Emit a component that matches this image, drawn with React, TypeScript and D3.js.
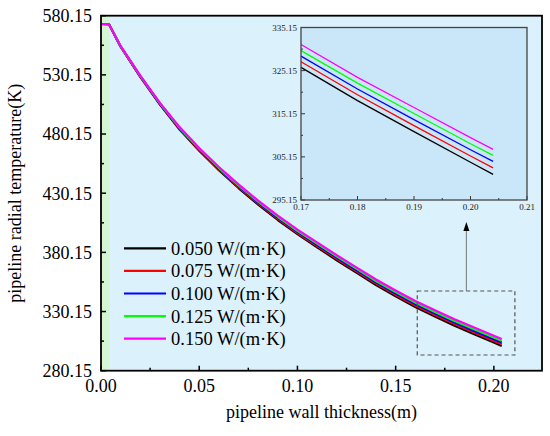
import * as d3 from 'd3';

// wall thickness (m)
const thickness = [0, 0.004, 0.01, 0.02, 0.03, 0.04, 0.05, 0.06, 0.07, 0.08, 0.09, 0.10, 0.11, 0.12, 0.13, 0.14, 0.15, 0.16, 0.17, 0.18, 0.19, 0.20, 0.204];

// radial temperature (K) for each insulation conductivity
const t050 = [573.15, 573.1, 554.0, 528.5, 505.0, 484.0, 466.0, 449.5, 434.5, 420.5, 407.5, 395.5, 384.5, 373.5, 363.0, 352.5, 343.0, 334.0, 325.9, 318.2, 311.0, 303.9, 301.1];
const t075 = [573.15, 573.1, 554.1, 528.75, 505.4, 484.5, 466.6, 450.2, 435.3, 421.35, 408.4, 396.5, 385.5, 374.6, 364.1, 353.7, 344.2, 335.3, 327.2, 319.55, 312.4, 305.35, 302.6];
const t100 = [573.15, 573.1, 554.2, 529.0, 505.75, 485.0, 467.2, 450.9, 436.05, 422.2, 409.35, 397.45, 386.55, 375.65, 365.25, 354.85, 345.45, 336.55, 328.5, 320.9, 313.8, 306.8, 304.1];
const t125 = [573.15, 573.1, 554.3, 529.25, 506.1, 485.5, 467.8, 451.6, 436.8, 423.05, 410.25, 398.4, 387.6, 376.75, 366.4, 356.0, 346.65, 337.8, 329.8, 322.25, 315.2, 308.2, 305.5];
const t150 = [573.15, 573.1, 554.4, 529.5, 506.5, 486.0, 468.4, 452.3, 437.6, 423.9, 411.2, 399.4, 388.6, 377.8, 367.5, 357.2, 347.9, 339.1, 331.2, 323.6, 316.6, 309.6, 306.9];

const seriesLabels = ['0.050 W/(m·K)', '0.075 W/(m·K)', '0.100 W/(m·K)', '0.125 W/(m·K)', '0.150 W/(m·K)'];
const seriesValues = [t050, t075, t100, t125, t150];
const seriesColors = ['#000000', '#ff0000', '#0000ff', '#00ff00', '#ff00ff'];

const xTicks = [0, 0.05, 0.10, 0.15, 0.20];
const xMinor = [0.025, 0.075, 0.125, 0.175];
const yTicks = [280.15, 330.15, 380.15, 430.15, 480.15, 530.15, 580.15];
const yMinor = [305.15, 355.15, 405.15, 455.15, 505.15, 555.15];

const insetXTicks = [0.17, 0.18, 0.19, 0.20, 0.21];
const insetXMinor = [0.175, 0.185, 0.195, 0.205];
const insetYTicks = [295.15, 305.15, 315.15, 325.15, 335.15];
const insetYMinor = [300.15, 310.15, 320.15, 330.15];

const wallEnd = 0.0042;
const zoomBox = { x0: 0.161, x1: 0.2107, y0: 293.4, y1: 347.5 };

const FONT = '"Liberation Serif", "Times New Roman", serif';

export default function App() {
  const W = 550, H = 436;

  const x = d3.scaleLinear().domain([0, 0.2245]).range([101, 542]);
  const y = d3.scaleLinear().domain([280.15, 580.15]).range([370.7, 15.7]);

  const ix = d3.scaleLinear().domain([0.17, 0.21]).range([301, 527]);
  const iy = d3.scaleLinear().domain([295.15, 335.15]).range([200, 27.5]);

  const line = d3.line<[number, number]>()
    .x(d => x(d[0]))
    .y(d => y(d[1]));

  const insetLine = d3.line<[number, number]>()
    .x(d => ix(d[0]))
    .y(d => iy(d[1]));

  const pairs = (vals: number[]) => thickness.map((t, i) => [t, vals[i]] as [number, number]);
  const insetPairs = (vals: number[]) => pairs(vals).filter(d => d[0] >= 0.17);

  const [px0, px1] = x.range();
  const [py0, py1] = y.range();
  const bx0 = x(zoomBox.x0), bx1 = x(zoomBox.x1);
  const by0 = y(zoomBox.y1), by1 = y(zoomBox.y0);
  const arrowX = x(0.186);

  return (
    <svg width={W} height={H} style={{ position: 'absolute', left: 0, top: 0, background: '#fff' }} fontFamily={FONT}>
      {/* plot background */}
      <rect x={px0} y={py1} width={px1 - px0} height={py0 - py1} fill="#dbf1fc" />
      <rect x={px0} y={py1} width={x(wallEnd) - px0} height={py0 - py1} fill="#d5f6d5" />

      {/* curves */}
      {seriesValues.map((vals, i) => (
        <path key={i} d={line(pairs(vals)) || ''} fill="none" stroke={seriesColors[i]} strokeWidth={2.2} strokeLinejoin="round" />
      ))}

      {/* zoom box + arrow */}
      <rect x={bx0} y={by0} width={bx1 - bx0} height={by1 - by0} fill="none" stroke="#555" strokeWidth={1.2} strokeDasharray="4,3" />
      <line x1={arrowX} x2={arrowX} y1={by0} y2={230} stroke="#777" strokeWidth={1} />
      <path d={`M${arrowX},222 L${arrowX - 3},231 L${arrowX + 3},231 Z`} fill="#000" />

      {/* inset */}
      <rect x={301} y={27.5} width={226} height={172.5} fill="#c9e7f8" />
      {seriesValues.map((vals, i) => (
        <path key={i} d={insetLine(insetPairs(vals)) || ''} fill="none" stroke={seriesColors[i]} strokeWidth={1.3} />
      ))}
      {insetXTicks.map(t => (
        <g key={t}>
          <line x1={ix(t)} x2={ix(t)} y1={200} y2={196} stroke="#333" strokeWidth={1} />
          <text x={ix(t)} y={210} fontSize={9} textAnchor="middle" fill="#222">{t.toFixed(2)}</text>
        </g>
      ))}
      {insetXMinor.map(t => (
        <line key={t} x1={ix(t)} x2={ix(t)} y1={200} y2={198} stroke="#333" strokeWidth={1} />
      ))}
      {insetYTicks.map(t => (
        <g key={t}>
          <line x1={301} x2={305} y1={iy(t)} y2={iy(t)} stroke="#333" strokeWidth={1} />
          <text x={297} y={iy(t)} dy="0.35em" fontSize={9} textAnchor="end" fill="#222">{t.toFixed(2)}</text>
        </g>
      ))}
      {insetYMinor.map(t => (
        <line key={t} x1={301} x2={303} y1={iy(t)} y2={iy(t)} stroke="#333" strokeWidth={1} />
      ))}
      <rect x={301} y={27.5} width={226} height={172.5} fill="none" stroke="#444" strokeWidth={1.3} />

      {/* main axes */}
      {xTicks.map(t => (
        <g key={t}>
          <line x1={x(t)} x2={x(t)} y1={py0} y2={py0 - 5} stroke="#000" strokeWidth={1.5} />
          <text x={x(t)} y={392} fontSize={18} textAnchor="middle" fill="#000">{t.toFixed(2)}</text>
        </g>
      ))}
      {xMinor.map(t => (
        <line key={t} x1={x(t)} x2={x(t)} y1={py0} y2={py0 - 3} stroke="#000" strokeWidth={1.5} />
      ))}
      {yTicks.map(t => (
        <g key={t}>
          <line x1={px0} x2={px0 + 5} y1={y(t)} y2={y(t)} stroke="#000" strokeWidth={1.5} />
          <text x={92} y={y(t)} dy="0.35em" fontSize={18} textAnchor="end" fill="#000">{t.toFixed(2)}</text>
        </g>
      ))}
      {yMinor.map(t => (
        <line key={t} x1={px0} x2={px0 + 3} y1={y(t)} y2={y(t)} stroke="#000" strokeWidth={1.5} />
      ))}
      <rect x={px0} y={py1} width={px1 - px0} height={py0 - py1} fill="none" stroke="#000" strokeWidth={1.8} />

      {/* legend */}
      {seriesLabels.map((label, i) => {
        const ly = 248.3 + i * 22.6;
        return (
          <g key={label}>
            <line x1={124} x2={166} y1={ly} y2={ly} stroke={seriesColors[i]} strokeWidth={2.2} />
            <text x={171} y={ly} dy="0.35em" fontSize={18.5} fill="#000">{label}</text>
          </g>
        );
      })}

      {/* axis titles */}
      <text x={(px0 + px1) / 2} y={418} fontSize={18} textAnchor="middle" fill="#000">pipeline wall thickness(m)</text>
      <text transform={`translate(21,${(py0 + py1) / 2}) rotate(-90)`} fontSize={18} textAnchor="middle" fill="#000">pipeline radial temperature(K)</text>
    </svg>
  );
}
